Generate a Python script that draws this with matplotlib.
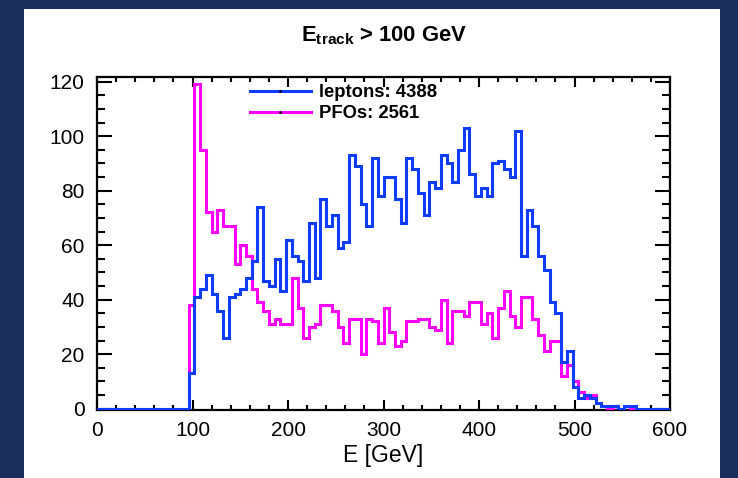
import numpy as np
import matplotlib
matplotlib.use('Agg')
import matplotlib.pyplot as plt
from matplotlib.lines import Line2D
from matplotlib.patches import Rectangle
from matplotlib.ticker import MultipleLocator

plt.rcParams['font.family'] = ['Liberation Sans', 'DejaVu Sans']
plt.rcParams['mathtext.fontset'] = 'custom'
plt.rcParams['mathtext.rm'] = 'Liberation Sans'
plt.rcParams['mathtext.bf'] = 'Liberation Sans:bold'

# 100 bins of 6 GeV from 0 to 600
bin_edges = np.linspace(0, 600, 101)

leptons = [0] * 16 + [
    13, 41, 44, 49, 42, 36, 26, 41, 42, 44, 48, 54,
    74, 47, 45, 55, 43, 62, 56, 54, 47, 68, 48, 77, 67, 71,
    59, 61, 93, 89, 75, 67, 92, 78, 85, 85, 77,
    68, 92, 88, 79, 71, 83, 81, 93, 90, 83, 95, 103, 86, 78, 81, 78, 90,
    91, 88, 85, 102, 56, 73, 67, 56, 51, 39, 35,
    17, 21, 8, 4, 5, 4, 2, 1, 1, 1, 0, 1, 1, 0, 0, 0, 0, 0, 0]

pfos = [0] * 16 + [
    38, 119, 95, 72, 65, 73, 67, 67, 53, 60, 56, 44,
    39, 36, 31, 33, 31, 31, 48, 37, 26, 30, 31, 38, 38, 36,
    30, 24, 33, 33, 20, 33, 32, 24, 37, 28, 23,
    25, 32, 32, 33, 33, 30, 29, 40, 24, 36, 36, 34, 39, 39, 31, 35, 26,
    37, 43, 34, 30, 41, 41, 33, 27, 21, 25, 25,
    12, 16, 10, 6, 4, 5, 2, 1, 0, 1, 0, 1, 0, 0, 0, 0, 0, 0, 0]

labels = ['leptons: 4388', 'PFOs: 2561']
blue = '#0f3cff'
magenta = '#ff00ff'

fig = plt.figure(figsize=(7.38, 4.78), dpi=100, facecolor='#1b2e5c')
fig.patches.append(Rectangle((24 / 738, 0), 696 / 738, 469 / 478, transform=fig.transFigure,
                             facecolor='white', edgecolor='none', zorder=-5))
ax = fig.add_axes([97 / 738, 68 / 478, 573 / 738, 333 / 478], zorder=1)

ax.stairs(pfos, bin_edges, color=magenta, lw=2.2, zorder=3)
ax.stairs(leptons, bin_edges, color=blue, lw=2.2, zorder=4)

ax.set_xlim(0, 600)
ax.set_ylim(-0.5, 121.7)
ax.xaxis.set_major_locator(MultipleLocator(100))
ax.xaxis.set_minor_locator(MultipleLocator(20))
ax.yaxis.set_major_locator(MultipleLocator(20))
ax.yaxis.set_minor_locator(MultipleLocator(5))
ax.tick_params(which='both', direction='in', top=True, right=True, width=1.5, labelsize=15)
ax.tick_params(axis='x', which='major', length=7, pad=8)
ax.tick_params(axis='x', which='minor', length=3.5)
ax.tick_params(axis='y', which='major', length=11, pad=9)
ax.tick_params(axis='y', which='minor', length=6)
for s in ax.spines.values():
    s.set_linewidth(1.6)

ax.set_xlabel('E [GeV]', fontsize=16.5, labelpad=3)

fig.text(0.52, (478 - 41) / 478, r'$\mathbf{E}_{\mathbf{track}}$ > 100 GeV', ha='center',
         va='baseline', fontsize=15.8, fontweight='bold')

handles = [Line2D([], [], color=blue, lw=2.2, marker='.', markersize=2,
                  markerfacecolor='k', markeredgecolor='k'),
           Line2D([], [], color=magenta, lw=2.2, marker='.', markersize=2,
                  markerfacecolor='k', markeredgecolor='k')]
ax.legend(handles, labels, loc='upper left', bbox_to_anchor=(0.267, 0.978), frameon=False,
          prop={'size': 13.3, 'weight': 'bold'}, handlelength=3.3, handletextpad=0.45,
          labelspacing=0.2, borderpad=0, borderaxespad=0, numpoints=1)

fig.savefig('out.png', dpi=100, facecolor=fig.get_facecolor())
